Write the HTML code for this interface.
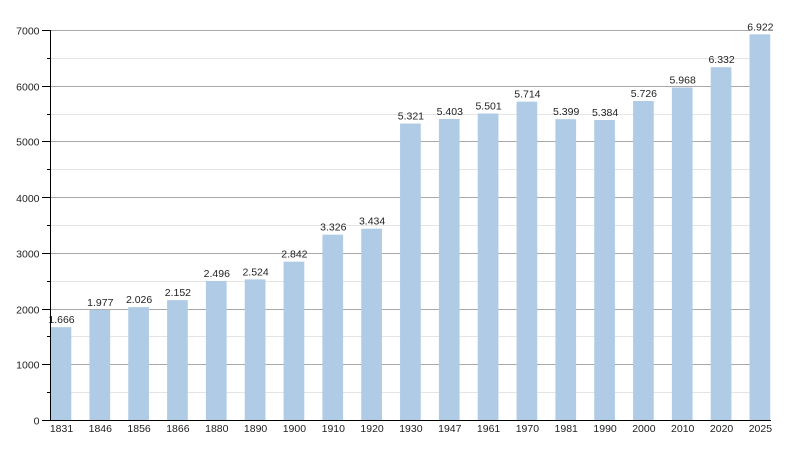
<!DOCTYPE html>
<html>
<head>
<meta charset="utf-8">
<style>
html,body{margin:0;padding:0;background:#fff;}
svg{display:block;}
text{font-family:"Liberation Sans",Arial,sans-serif;font-size:10.5px;fill:#222;}
</style>
</head>
<body>
<svg width="800" height="450" viewBox="0 0 800 450" xmlns="http://www.w3.org/2000/svg">
<g stroke-width="1">
<line x1="51" x2="750" y1="392.5" y2="392.5" stroke="#e4e4e4"/>
<line x1="51" x2="750" y1="364.5" y2="364.5" stroke="#a8a8a8"/>
<line x1="51" x2="750" y1="336.5" y2="336.5" stroke="#e4e4e4"/>
<line x1="51" x2="750" y1="309.5" y2="309.5" stroke="#a8a8a8"/>
<line x1="51" x2="750" y1="281.5" y2="281.5" stroke="#e4e4e4"/>
<line x1="51" x2="750" y1="253.5" y2="253.5" stroke="#a8a8a8"/>
<line x1="51" x2="750" y1="225.5" y2="225.5" stroke="#e4e4e4"/>
<line x1="51" x2="750" y1="197.5" y2="197.5" stroke="#a8a8a8"/>
<line x1="51" x2="750" y1="169.5" y2="169.5" stroke="#e4e4e4"/>
<line x1="51" x2="750" y1="141.5" y2="141.5" stroke="#a8a8a8"/>
<line x1="51" x2="750" y1="114.5" y2="114.5" stroke="#e4e4e4"/>
<line x1="51" x2="750" y1="86.5" y2="86.5" stroke="#a8a8a8"/>
<line x1="51" x2="750" y1="58.5" y2="58.5" stroke="#e4e4e4"/>
<line x1="51" x2="750" y1="30.5" y2="30.5" stroke="#a8a8a8"/>
</g>
<g fill="#b0cbe6">
<rect x="50.6" y="327.18" width="20.7" height="92.82"/>
<rect x="89.43" y="309.85" width="20.7" height="110.15"/>
<rect x="128.26" y="307.12" width="20.7" height="112.88"/>
<rect x="167.09" y="300.10" width="20.7" height="119.90"/>
<rect x="205.92" y="280.94" width="20.7" height="139.06"/>
<rect x="244.75" y="279.38" width="20.7" height="140.62"/>
<rect x="283.58" y="261.66" width="20.7" height="158.34"/>
<rect x="322.41" y="234.69" width="20.7" height="185.31"/>
<rect x="361.24" y="228.68" width="20.7" height="191.32"/>
<rect x="400.07" y="123.54" width="20.7" height="296.46"/>
<rect x="438.9" y="118.98" width="20.7" height="301.02"/>
<rect x="477.73" y="113.51" width="20.7" height="306.49"/>
<rect x="516.56" y="101.65" width="20.7" height="318.35"/>
<rect x="555.39" y="119.20" width="20.7" height="300.80"/>
<rect x="594.22" y="120.03" width="20.7" height="299.97"/>
<rect x="633.05" y="100.98" width="20.7" height="319.02"/>
<rect x="671.88" y="87.50" width="20.7" height="332.50"/>
<rect x="710.71" y="67.22" width="20.7" height="352.78"/>
<rect x="749.54" y="34.35" width="20.7" height="385.65"/>
</g>
<g text-anchor="middle">
<text x="61.5" y="323.2">1.666</text>
<text x="100.3" y="305.9">1.977</text>
<text x="139.1" y="303.1">2.026</text>
<text x="177.9" y="296.1">2.152</text>
<text x="216.8" y="276.9">2.496</text>
<text x="255.6" y="275.4">2.524</text>
<text x="294.4" y="257.7">2.842</text>
<text x="333.3" y="230.7">3.326</text>
<text x="372.1" y="224.7">3.434</text>
<text x="410.9" y="119.5">5.321</text>
<text x="449.8" y="115.0">5.403</text>
<text x="488.6" y="109.5">5.501</text>
<text x="527.4" y="97.7">5.714</text>
<text x="566.2" y="115.2">5.399</text>
<text x="605.1" y="116.0">5.384</text>
<text x="643.9" y="97.0">5.726</text>
<text x="682.7" y="83.5">5.968</text>
<text x="721.6" y="63.2">6.332</text>
<text x="760.4" y="30.4">6.922</text>
</g>
<g text-anchor="middle">
<text x="61.5" y="432">1831</text>
<text x="100.3" y="432">1846</text>
<text x="139.1" y="432">1856</text>
<text x="177.9" y="432">1866</text>
<text x="216.8" y="432">1880</text>
<text x="255.6" y="432">1890</text>
<text x="294.4" y="432">1900</text>
<text x="333.3" y="432">1910</text>
<text x="372.1" y="432">1920</text>
<text x="410.9" y="432">1930</text>
<text x="449.8" y="432">1947</text>
<text x="488.6" y="432">1961</text>
<text x="527.4" y="432">1970</text>
<text x="566.2" y="432">1981</text>
<text x="605.1" y="432">1990</text>
<text x="643.9" y="432">2000</text>
<text x="682.7" y="432">2010</text>
<text x="721.6" y="432">2020</text>
<text x="760.4" y="432">2025</text>
</g>
<g stroke="#000" stroke-width="1">
<line x1="50.5" x2="50.5" y1="30" y2="420.5"/>
<line x1="50" x2="771" y1="420.5" y2="420.5"/>
<line x1="42" x2="50" y1="420.5" y2="420.5"/>
<line x1="47" x2="50" y1="392.5" y2="392.5"/>
<line x1="42" x2="50" y1="364.5" y2="364.5"/>
<line x1="47" x2="50" y1="336.5" y2="336.5"/>
<line x1="42" x2="50" y1="309.5" y2="309.5"/>
<line x1="47" x2="50" y1="281.5" y2="281.5"/>
<line x1="42" x2="50" y1="253.5" y2="253.5"/>
<line x1="47" x2="50" y1="225.5" y2="225.5"/>
<line x1="42" x2="50" y1="197.5" y2="197.5"/>
<line x1="47" x2="50" y1="169.5" y2="169.5"/>
<line x1="42" x2="50" y1="141.5" y2="141.5"/>
<line x1="47" x2="50" y1="114.5" y2="114.5"/>
<line x1="42" x2="50" y1="86.5" y2="86.5"/>
<line x1="47" x2="50" y1="58.5" y2="58.5"/>
<line x1="42" x2="50" y1="30.5" y2="30.5"/>
</g>
<g text-anchor="end">
<text x="39.5" y="424.5">0</text>
<text x="39.5" y="368.6">1000</text>
<text x="39.5" y="313.6">2000</text>
<text x="39.5" y="257.6">3000</text>
<text x="39.5" y="201.8">4000</text>
<text x="39.5" y="145.7">5000</text>
<text x="39.5" y="90.6">6000</text>
<text x="39.5" y="34.6">7000</text>
</g>
</svg>
</body>
</html>
